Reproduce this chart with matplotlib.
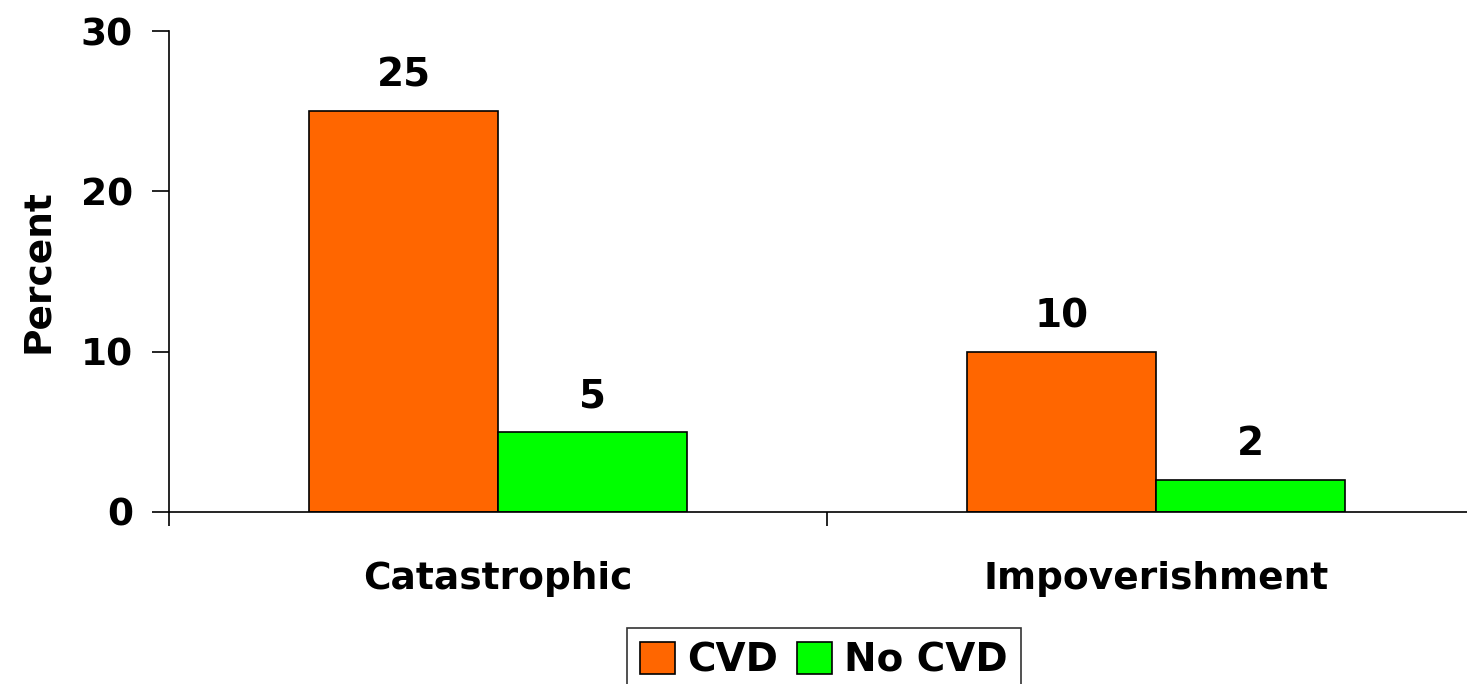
import matplotlib
matplotlib.use("Agg")
import matplotlib.pyplot as plt
import numpy as np

categories = ["Catastrophic", "Impoverishment"]
series_names = ["CVD", "No CVD"]
cvd = [25, 10]
no_cvd = [5, 2]
colors = ["#FF6600", "#00FF00"]

plt.rcParams['font.family'] = ['DejaVu Sans']
plt.rcParams['font.weight'] = 'bold'

fig = plt.figure(figsize=(14.67, 6.84), dpi=100)
ax = fig.add_axes([169/1467, 172/684, 1316/1467, 481/684])

x = np.arange(len(categories))
w = 0.287
b1 = ax.bar(x - w/2, cvd, w, color=colors[0], edgecolor="black", linewidth=1.2, label=series_names[0])
b2 = ax.bar(x + w/2, no_cvd, w, color=colors[1], edgecolor="black", linewidth=1.2, label=series_names[1])
for bars, vals in ((b1, cvd), (b2, no_cvd)):
    for r, v in zip(bars, vals):
        ax.annotate(f"{v}", (r.get_x() + r.get_width()/2, v), xytext=(0, 12),
                    textcoords="offset points", ha="center", va="bottom",
                    fontsize=28, fontweight="bold")

ax.set_xlim(-0.5, 1.5)
ax.set_ylim(0, 30)
ax.set_yticks([0, 10, 20, 30])
ax.set_xticks([-0.5, 0.5, 1.5])
ax.set_xticklabels([])
ax.set_xticks(x, minor=True)
ax.set_xticklabels(categories, minor=True, fontsize=27, fontweight="bold")
ax.tick_params(axis="x", which="minor", length=0, pad=35)
ax.tick_params(axis="x", which="major", length=10, width=1.2, direction="out")
ax.tick_params(axis="y", length=12, width=1.2, direction="out", labelsize=27, pad=14)
for t in ax.get_yticklabels():
    t.set_fontweight("bold")
ax.spines["top"].set_visible(False)
ax.spines["right"].set_visible(False)
ax.spines["left"].set_linewidth(1.2)
ax.spines["bottom"].set_linewidth(1.2)
ax.set_ylabel("Percent", fontsize=27, fontweight="bold", labelpad=18)

leg = fig.legend(loc="upper center", bbox_to_anchor=(824/1467, 1 - 628/684), ncol=2,
                 fontsize=28, frameon=True, fancybox=False, edgecolor="black",
                 handlelength=0.9, handleheight=0.9, handletextpad=0.3, columnspacing=0.5,
                 borderpad=0.35, borderaxespad=0)
leg.get_frame().set_linewidth(1.2)
for t in leg.get_texts():
    t.set_fontweight("bold")

fig.savefig("out.png", dpi=100)
